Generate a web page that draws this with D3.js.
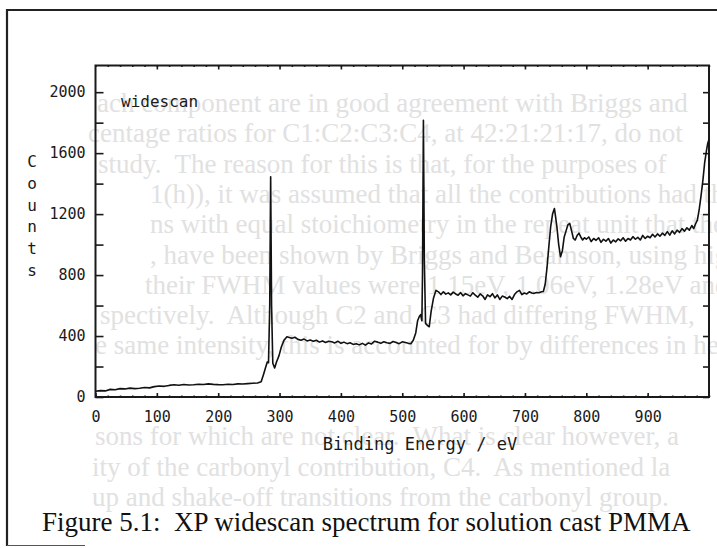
<!DOCTYPE html>
<html>
<head>
<meta charset="utf-8">
<script src="https://cdn.jsdelivr.net/npm/d3@7"></script>
<style>
  body { margin: 0; background: #fff; }
  svg { display: block; }
  .plotter { font-family: "DejaVu Sans Mono", "Liberation Mono", monospace; fill: #1a1a1a; }
</style>
</head>
<body>
<div id="chart"></div>
<script>
// binding energy (eV) and counts
const energy = [0, 8, 16, 24, 32, 40, 48, 56, 64, 72, 80, 88, 96, 104, 112, 120, 128, 136, 144, 152,
  160, 168, 176, 184, 192, 200, 208, 216, 224, 232, 240, 248, 256, 264, 270, 274, 277, 280, 282, 284,
  285.5, 287, 289, 292, 295, 299, 303, 307, 312, 316, 320, 325, 330, 335, 340, 345, 350, 355, 360, 365,
  370, 375, 380, 385, 390, 395, 400, 405, 410, 415, 420, 425, 430, 435, 440, 445, 450, 455, 460, 465,
  470, 475, 480, 485, 490, 495, 500, 505, 510, 514, 518, 522, 525, 528, 530, 532, 533, 534.5, 536, 538,
  541, 544, 547, 551, 555, 559, 563, 567, 571, 575, 579, 583, 587, 591, 595, 599, 603, 607, 611, 615,
  619, 623, 627, 631, 635, 639, 643, 647, 651, 655, 659, 663, 667, 671, 675, 679, 683, 687, 691, 695,
  699, 703, 707, 711, 715, 719, 723, 727, 730, 733, 736, 739, 742, 745, 748, 750, 752, 755, 758, 761,
  764, 767, 770, 773, 776, 779, 782, 785, 788, 791, 794, 797, 800, 804, 808, 812, 816, 820, 824, 828,
  832, 836, 840, 844, 848, 852, 856, 860, 864, 868, 872, 876, 880, 884, 888, 892, 896, 900, 904, 908,
  912, 916, 920, 924, 928, 932, 936, 940, 944, 948, 952, 956, 960, 964, 968, 972, 975, 978, 981, 984,
  987, 990, 993, 996, 998, 1000];
const counts = [38, 42, 40, 50, 48, 55, 53, 58, 55, 57, 62, 60, 68, 72, 70, 76, 80, 77, 82, 79,
  80, 84, 82, 86, 83, 81, 80, 84, 82, 86, 85, 88, 90, 92, 100, 150, 190, 230, 225, 600,
  1445, 600, 221, 190, 230, 270, 330, 370, 395, 390, 385, 392, 378, 372, 380, 368, 374, 366, 372, 360,
  368, 358, 366, 362, 355, 366, 352, 360, 350, 356, 345, 350, 342, 352, 340, 355, 348, 366, 360, 352,
  362, 356, 352, 364, 358, 350, 362, 358, 352, 350, 372, 420, 500, 530, 540, 500, 800, 1816, 900, 483,
  470, 461, 560, 650, 700, 690, 672, 690, 675, 683, 670, 688, 676, 668, 685, 664, 678, 670, 662, 684,
  668, 655, 676, 664, 640, 670, 658, 678, 650, 670, 640, 662, 656, 645, 660, 640, 672, 690, 700, 672,
  682, 676, 690, 682, 680, 686, 684, 690, 692, 740, 850, 990, 1120, 1200, 1237, 1180, 1120, 1000, 920, 960,
  1050, 1090, 1130, 1139, 1090, 1040, 1030, 1060, 1075, 1050, 1030, 1045, 1035, 1050, 1020, 1040, 1028, 1045, 1015, 1035,
  1022, 1040, 1010, 1030, 1018, 1038, 1025, 1045, 1022, 1040, 1030, 1052, 1035, 1048, 1030, 1060, 1040, 1055, 1045, 1068,
  1050, 1070, 1055, 1075, 1060, 1085, 1062, 1090, 1070, 1095, 1080, 1105, 1088, 1110, 1095, 1125, 1105, 1135, 1160, 1230,
  1320, 1420, 1540, 1620, 1665, 1690];

const xTickValues = [0, 100, 200, 300, 400, 500, 600, 700, 800, 900];
const yTickValues = [0, 400, 800, 1200, 1600, 2000];
const yMinorValues = [200, 600, 1000, 1400, 1800];
const yLabelLetters = ["C", "o", "u", "n", "t", "s"];
const plotTitle = "widescan";
const xLabel = "Binding Energy / eV";
const caption = "Figure 5.1:  XP widescan spectrum for solution cast PMMA";
// text of the next page that shows through the scan
const ghostLines = [
  "ach component are in good agreement with Briggs and",
  "centage ratios for C1:C2:C3:C4, at 42:21:21:17, do not",
  "study.  The reason for this is that, for the purposes of",
  "1(h)), it was assumed that all the contributions had the",
  "ns with equal stoichiometry in the repeat unit that the",
  ", have been shown by Briggs and Beamson, using high",
  "their FWHM values were 1.15eV, 1.06eV, 1.28eV and",
  "spectively.  Although C2 and C3 had differing FWHM,",
  "e same intensity, this is accounted for by differences in height",
  "",
  "",
  "sons for which are not clear.  What is clear however, a",
  "ity of the carbonyl contribution, C4.  As mentioned la",
  "up and shake-off transitions from the carbonyl group."
];
const ghostStart = [97, 88, 98, 150, 150, 150, 145, 100, 95, 0, 0, 95, 92, 92];

const W = 717, H = 548;
const box = {left: 95.5, right: 709, top: 65.5, bottom: 397};

const svg = d3.select("#chart").append("svg")
  .attr("width", W).attr("height", H);

svg.append("rect").attr("width", W).attr("height", H).attr("fill", "#fff");

// ghost text
const ghost = svg.append("g")
  .attr("font-family", "'Liberation Serif', 'Times New Roman', serif")
  .attr("font-size", 27)
  .attr("fill", "#e1e1e1");
ghost.selectAll("text").data(ghostLines).join("text")
  .attr("x", (d, i) => ghostStart[i])
  .attr("y", (d, i) => 112 + i * 30.3)
  .style("white-space", "pre")
  .text(d => d);

// page frame
svg.append("path")
  .attr("d", "M7,546 L7,10 L717,10")
  .attr("fill", "none").attr("stroke", "#222").attr("stroke-width", 2.2);
svg.append("line")
  .attr("x1", 7).attr("x2", 85).attr("y1", 545.5).attr("y2", 545.5)
  .attr("stroke", "#555").attr("stroke-width", 1.2);

const x = d3.scaleLinear().domain([0, 1000]).range([box.left, box.right]);
const y = d3.scaleLinear().domain([0, 2175]).range([box.bottom, box.top]);

function styleAxis(g) {
  g.select(".domain").remove();
  g.selectAll("line").attr("stroke", "#1a1a1a").attr("stroke-width", 1.6);
  g.selectAll("text").attr("class", "plotter").attr("font-size", 15).attr("fill", "#1a1a1a");
}

// left axis, ticks point inward
svg.append("g")
  .attr("transform", `translate(${box.left},0)`)
  .call(d3.axisLeft(y).tickValues(yTickValues).tickFormat(d3.format("d"))
    .tickSizeInner(-8).tickSizeOuter(0).tickPadding(10))
  .call(styleAxis);
svg.append("g")
  .attr("transform", `translate(${box.left},0)`)
  .call(d3.axisLeft(y).tickValues(yMinorValues).tickSizeInner(-8).tickSizeOuter(0).tickFormat(""))
  .call(styleAxis);

// right axis
svg.append("g")
  .attr("transform", `translate(${box.right},0)`)
  .call(d3.axisRight(y).tickValues(yTickValues.concat(yMinorValues)).tickSizeInner(-6).tickSizeOuter(0).tickFormat(""))
  .call(styleAxis);

// bottom axis
svg.append("g")
  .attr("transform", `translate(0,${box.bottom})`)
  .call(d3.axisBottom(x).tickValues(xTickValues).tickFormat(d3.format("d"))
    .tickSizeInner(-4).tickSizeOuter(0).tickPadding(14))
  .call(styleAxis);
svg.append("g")
  .attr("transform", `translate(0,${box.bottom})`)
  .call(d3.axisBottom(x).ticks(50).tickSizeInner(-1.5).tickSizeOuter(0).tickFormat(""))
  .call(styleAxis);

// top axis
svg.append("g")
  .attr("transform", `translate(0,${box.top})`)
  .call(d3.axisTop(x).tickValues(xTickValues.slice(1)).tickSizeInner(-4).tickSizeOuter(0).tickFormat(""))
  .call(styleAxis);
svg.append("g")
  .attr("transform", `translate(0,${box.top})`)
  .call(d3.axisTop(x).ticks(50).tickSizeInner(-1.5).tickSizeOuter(0).tickFormat(""))
  .call(styleAxis);

// plot frame
svg.append("rect")
  .attr("x", box.left).attr("y", box.top)
  .attr("width", box.right - box.left).attr("height", box.bottom - box.top)
  .attr("fill", "none").attr("stroke", "#1a1a1a").attr("stroke-width", 2);

// spectrum
const line = d3.line()
  .x((d, i) => x(energy[i]))
  .y(d => y(d));
svg.append("path")
  .datum(counts)
  .attr("d", line)
  .attr("fill", "none")
  .attr("stroke", "#111")
  .attr("stroke-width", 1.6)
  .attr("stroke-linejoin", "round");

// labels
svg.append("text").attr("class", "plotter")
  .attr("x", 121).attr("y", 107).attr("font-size", 16)
  .text(plotTitle);

svg.append("g").selectAll("text").data(yLabelLetters).join("text")
  .attr("class", "plotter")
  .attr("x", 32).attr("y", (d, i) => 167 + i * 21.8)
  .attr("text-anchor", "middle").attr("font-size", 16)
  .text(d => d);

svg.append("text").attr("class", "plotter")
  .attr("x", 420).attr("y", 450).attr("text-anchor", "middle").attr("font-size", 17)
  .text(xLabel);

svg.append("text")
  .attr("x", 42).attr("y", 531)
  .attr("font-family", "'Liberation Serif', 'Times New Roman', serif")
  .attr("font-size", 27).attr("fill", "#111")
  .style("white-space", "pre")
  .text(caption);
</script>
</body>
</html>
